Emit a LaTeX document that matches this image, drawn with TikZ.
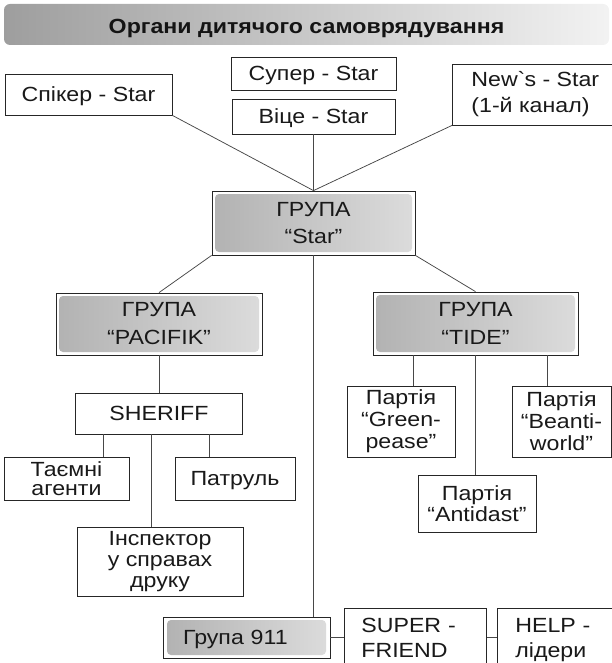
\documentclass[tikz,border=0pt]{standalone}
\usepackage{fontspec}
\setmainfont{Liberation Sans}[FakeStretch=1.13]

\begin{document}
\begin{tikzpicture}[x=1pt,y=-1pt,
    box/.style={draw=black!85,line width=0.8pt,fill=white,inner sep=0pt,align=center,
                text=black!90,font=\fontsize{20.5}{21}\selectfont},
    lead/.style={font=\fontsize{20.5}{#1}\selectfont},
    one/.style={text height=14.7pt,text depth=0pt},
    frame/.style={draw=black!85,line width=0.8pt,fill=white,inner sep=0pt},
    grp/.style={rounded corners=4pt,left color=black!30,middle color=black!9,right color=black!14,
                inner sep=0pt,align=center,text=black!90,font=\fontsize{20.5}{27}\selectfont},
    link/.style={draw=black!72,line width=0.75pt}]
\useasboundingbox (0,0) rectangle (612,663);
\clip (0,0) rectangle (612,663);

% title bar
\node[minimum width=605,minimum height=41,rounded corners=6pt,left color=black!38,right color=black!5,
      text=black!92,font=\bfseries\fontsize{20.5}{22}\selectfont,text height=17.6pt,text depth=0pt]
      (title) at (306.5,24.5) {Органи дитячого самоврядування};

% top row
\node[box,one,minimum width=167,minimum height=41] (spik) at (88.5,94.5) {Спікер - Star};
\node[box,one,minimum width=165,minimum height=33] (super) at (313.5,73.5) {Супер - Star};
\node[box,one,minimum width=163,minimum height=35] (vice) at (313.5,116.5) {Віце - Star};
\node[box,lead=26,align=left,anchor=west,inner xsep=19,minimum height=61] (news) at (452,94.5)
      {New\textasciigrave s - Star\\(1-й канал)};

% groups
\node[frame,minimum width=203,minimum height=64] (star) at (313.5,223) {};
\node[grp,minimum width=197,minimum height=58] (starin) at (star) {ГРУПА\\“Star”};
\node[frame,minimum width=206,minimum height=62] (pac) at (159,324) {};
\node[grp,lead=28,minimum width=200,minimum height=56] (pacin) at (pac) {ГРУПА\\“PACIFIK”};
\node[frame,minimum width=205,minimum height=63] (tide) at (475.5,323.5) {};
\node[grp,lead=28,minimum width=199,minimum height=57] (tidein) at (tide) {ГРУПА\\“TIDE”};

% PACIFIK branch
\node[box,one,minimum width=167,minimum height=41] (sheriff) at (159,413.5) {SHERIFF};
\node[box,lead=19,minimum width=125,minimum height=43] (taem) at (66.5,478.5) {Таємні\\агенти};
\node[box,one,minimum width=120,minimum height=43] (patr) at (235,478.5) {Патруль};
\node[box,minimum width=166,minimum height=69] (insp) at (160,561.5) {Інспектор\\у справах\\друку};

% TIDE branch
\node[box,lead=22,minimum width=108,minimum height=71] (green) at (401,421.5) {Партія\\“Green-\\pease”};
\node[box,lead=22,minimum width=99,minimum height=71] (beanti) at (561.5,421.5) {Партія\\“Beanti-\\world”};
\node[box,minimum width=118,minimum height=57] (antid) at (477,503.5) {Партія\\“Antidast”};

% bottom row
\node[frame,minimum width=167,minimum height=41] (g911) at (246.5,637.5) {};
\node[grp,align=left,text width=127,inner xsep=16,minimum height=35,text height=14.7pt,text depth=0pt]
      (g911in) at (g911) {Група 911};
\node[box,lead=25,align=left,anchor=north west,inner xsep=17,inner ysep=10,text width=108]
      (superf) at (344,608) {SUPER -\\FRIEND};
\node[box,lead=25,align=left,anchor=north west,inner xsep=18,inner ysep=10,text width=108]
      (help) at (497,608) {HELP -\\лідери};

% branch points
\coordinate (t1) at ([xshift=-26]taem.north east);
\coordinate (i1) at ([xshift=-9]insp.north);
\coordinate (p1) at ([xshift=35]patr.north west);
\coordinate (gr1) at ([xshift=12]green.north);
\coordinate (be1) at ([xshift=-14.5]beanti.north);

\draw[link] (spik.south east) -- (star.north);
\draw[link] (vice.south) -- (star.north);
\draw[link] (news.south west) -- (star.north);
\draw[link] (star.south west) -- (pac.north);
\draw[link] (star.south east) -- (tide.north);
\draw[link] (star.south) -- (star.south |- g911.north);
\draw[link] (pac.south) -- (sheriff.north);
\draw[link] (t1) -- (t1 |- sheriff.south);
\draw[link] (i1) -- (i1 |- sheriff.south);
\draw[link] (p1) -- (p1 |- sheriff.south);
\draw[link] (gr1) -- (gr1 |- tide.south);
\draw[link] (tide.south) -- (tide.south |- antid.north);
\draw[link] (be1) -- (be1 |- tide.south);
\draw[link] (g911.east) -- (g911.east -| superf.west);
\draw[link] (g911.east -| superf.east) -- (g911.east -| help.west);
\end{tikzpicture}
\end{document}
